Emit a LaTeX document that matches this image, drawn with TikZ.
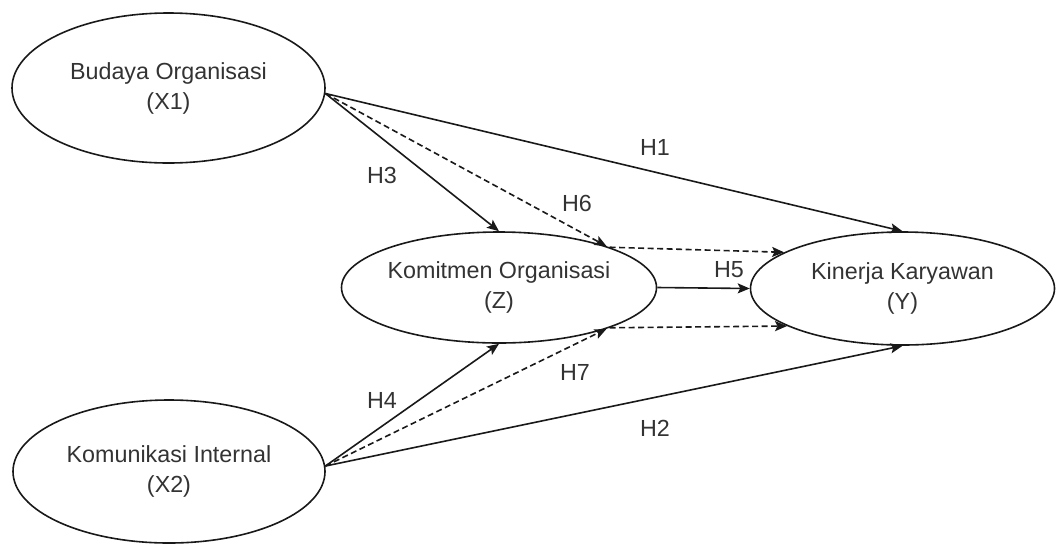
\documentclass[tikz,border=0pt]{standalone}
\usepackage{fontspec}
\setmainfont{Liberation Sans}
\usetikzlibrary{shapes.geometric,arrows.meta}
\begin{document}
\begin{tikzpicture}[x=1pt,y=-1pt,
  construct/.style={ellipse,draw=black!90,line width=1.6pt,inner sep=0pt,align=center,
    text=black!80,font=\fontsize{23.3}{30}\selectfont},
  lbl/.style={text=black!80,font=\fontsize{23.3}{28}\selectfont,inner sep=0pt},
  path/.style={draw=black!90,line width=1.6pt,-{Stealth[length=12pt,width=10pt,inset=2.5pt]}},
  mediated/.style={path,dash pattern=on 6pt off 3.5pt}]
\useasboundingbox (0,0) rectangle (1056,547);
\node[construct,minimum width=313pt,minimum height=150pt] (x1) at (168.5,88) {Budaya Organisasi\\(X1)};
\node[construct,minimum width=312pt,minimum height=143pt] (x2) at (169,471.5) {Komunikasi Internal\\(X2)};
\node[construct,minimum width=312pt,minimum height=111pt] (z) at (499,287.5) {Komitmen Organisasi\\(Z)};
\node[construct,minimum width=304pt,minimum height=113pt] (y) at (902.5,288.5) {Kinerja Karyawan\\(Y)};
% direct paths
\draw[path] (x1.-2) -- (y.north);
\draw[path] (x1.-2) -- (z.north);
\draw[mediated] (x1.-2) -- (z.21);
\draw[path] (x2.2) -- (y.south);
\draw[path] (x2.2) -- (z.south);
\draw[mediated] (x2.2) -- (z.-21);
\draw[path] (z.east) -- (y.west);
\draw[mediated] (z.20) -- (y.163);
\draw[mediated] (z.-20) -- (y.-162);
% labels
\node[lbl] (h1) at (655,147) {H1};
\node[lbl] (h2) at (655,428) {H2};
\node[lbl] (h3) at (382,175) {H3};
\node[lbl] (h4) at (382,400) {H4};
\node[lbl] (h5) at (729,270) {H5};
\node[lbl] (h6) at (577,203) {H6};
\node[lbl] (h7) at (575,372) {H7};
\end{tikzpicture}
\end{document}
